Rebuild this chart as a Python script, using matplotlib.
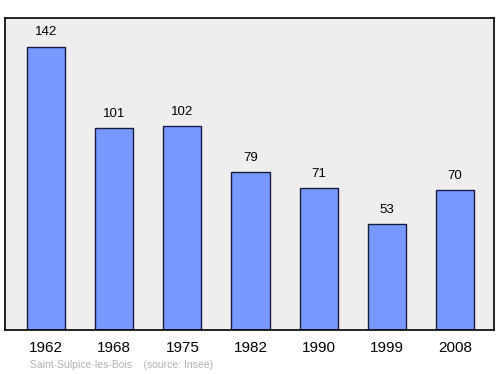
import matplotlib
matplotlib.use("Agg")
import matplotlib.pyplot as plt

years = ["1962", "1968", "1975", "1982", "1990", "1999", "2008"]
population = [142, 101, 102, 79, 71, 53, 70]
footer = "Saint-Sulpice-les-Bois    (source: Insee)"

plt.rcParams['font.family'] = ['Liberation Sans', 'DejaVu Sans']

fig = plt.figure(figsize=(5.0, 3.74), dpi=100)
ax = fig.add_axes([0.01, 0.1176, 0.978, 0.835])
ax.set_facecolor('#eeeeee')
x = list(range(len(years)))
ax.bar(x, population, width=0.56, color='#7799ff', edgecolor='#1a1a40', linewidth=1.0, zorder=2)
for xi, v in zip(x, population):
    ax.annotate(str(v), (xi, v), xytext=(0, 6), textcoords='offset points',
                ha='center', va='bottom', fontsize=9.5, color='black')
ax.set_xlim(-0.6, 6.57)
ax.set_ylim(0, 156.5)
ax.set_xticks(x)
ax.set_xticklabels(years, fontsize=11)
ax.tick_params(axis='x', length=0, pad=8)
ax.set_yticks([])
for s in ax.spines.values():
    s.set_linewidth(1.2)
    s.set_color('black')
fig.text(0.06, 0.012, footer, fontsize=7.5, color='#b0b0b0', ha='left', va='bottom')
fig.savefig('out.png', dpi=100)
